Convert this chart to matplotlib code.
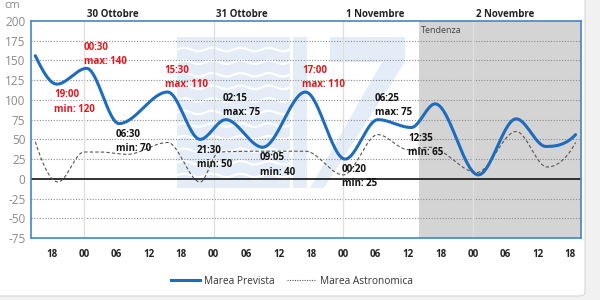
import numpy as np
import matplotlib
matplotlib.use("Agg")
import matplotlib.pyplot as plt
from matplotlib.lines import Line2D
from matplotlib.patches import FancyBboxPatch, Rectangle, Polygon

plt.rcParams['font.family'] = ['Open Sans', 'DejaVu Sans']

# ---------------- data (hours from 30 Oct 00:00) ----------------
prev_t = [-9, -5, 0.5, 6.5, 15.5, 21.5, 26.25, 33.08, 41, 48.33, 54.42, 60.58, 65, 73, 80, 85.5, 91]
prev_v = [156, 120, 140, 70, 110, 50, 75, 40, 110, 25, 75, 65, 95, 5, 76, 41, 56]

astro_t = [-9, -4.8, 0, 3, 8, 15.5, 21.5, 25, 33, 41, 48, 54.4, 60, 64, 72.7, 80, 85.7, 91]
astro_v = [47, -4, 34, 34, 31, 46, -4, 34, 35, 35, 5, 56, 37, 40, 8, 60, 15, 46]

event_t = [-5, 0.5, 6.5, 15.5, 21.5, 26.25, 33.08, 41, 48.33, 54.42, 60.58]
event_time = ["19:00", "00:30", "06:30", "15:30", "21:30", "02:15", "09:05", "17:00", "00:20", "06:25", "12:35"]
event_kind = ["min", "max", "min", "max", "min", "max", "min", "max", "min", "max", "min"]
event_val = [120, 140, 70, 110, 50, 75, 40, 110, 25, 75, 65]

day_t = [0, 24, 48, 72]
day_labels = ["30 Ottobre", "31 Ottobre", "1 Novembre", "2 Novembre"]
tick_t = list(range(-6, 91, 6))
tick_labels = ["18", "00", "06", "12"] * 4 + ["18"]
yticks = list(range(-75, 201, 25))
trend_start = 62


def pchip(x, y, xs):
    x = np.asarray(x, float); y = np.asarray(y, float)
    h = np.diff(x); d = np.diff(y) / h
    n = len(x); m = np.zeros(n)
    for k in range(1, n - 1):
        if d[k - 1] * d[k] > 0:
            w1 = 2 * h[k] + h[k - 1]; w2 = h[k] + 2 * h[k - 1]
            m[k] = (w1 + w2) / (w1 / d[k - 1] + w2 / d[k])
    def endslope(h0, h1, d0, d1):
        s = ((2 * h0 + h1) * d0 - h0 * d1) / (h0 + h1)
        if np.sign(s) != np.sign(d0):
            s = 0
        elif np.sign(d0) != np.sign(d1) and abs(s) > 3 * abs(d0):
            s = 3 * d0
        return s
    m[0] = endslope(h[0], h[1], d[0], d[1])
    m[-1] = endslope(h[-1], h[-2], d[-1], d[-2])
    idx = np.clip(np.searchsorted(x, xs) - 1, 0, n - 2)
    hh = h[idx]; tt = (xs - x[idx]) / hh
    h00 = 2 * tt**3 - 3 * tt**2 + 1; h10 = tt**3 - 2 * tt**2 + tt
    h01 = -2 * tt**3 + 3 * tt**2; h11 = tt**3 - tt**2
    return h00 * y[idx] + h10 * hh * m[idx] + h01 * y[idx + 1] + h11 * hh * m[idx + 1]


fig = plt.figure(figsize=(6, 3), dpi=100, facecolor='#f1f1f1')
card = FancyBboxPatch((-20 / 600, 4 / 300), 605 / 600, 1.2,
                      boxstyle="round,pad=0,rounding_size=0.012", transform=fig.transFigure,
                      facecolor='white', edgecolor='#d6d6d6', lw=0.8, zorder=-10)
fig.patches.append(card)

ax = fig.add_axes([31 / 600, 1 - 238 / 300, 550 / 600, 217 / 300])
ax.set_facecolor('white')
ax.set_xlim(-9.8, 92)
ax.set_ylim(-75, 200)

# faint watermark logo (axes-fraction coordinates)
def px(xp, yp):
    return ((xp - 31) / 550, (238 - yp) / 217)

wm = '#e4edf7'
x0, y0 = px(177, 188); x1, y1 = px(290, 37)
ax.add_patch(Rectangle((x0, y0), x1 - x0, y1 - y0, transform=ax.transAxes,
                       facecolor=wm, edgecolor='none', zorder=0.3))
wx = np.linspace(x0, x1, 200)
for k in range(1, 12):
    yy = y0 + (y1 - y0) * k / 12
    ax.plot(wx, yy + 0.008 * np.sin((wx - x0) / (x1 - x0) * 2 * np.pi * 4), color='white',
            lw=1.6, transform=ax.transAxes, zorder=0.35)
bx0, by0 = px(293, 188); bx1, by1 = px(307, 37)
ax.add_patch(Rectangle((bx0, by0), bx1 - bx0, by1 - by0, transform=ax.transAxes,
                       facecolor=wm, edgecolor='none', zorder=0.3))
zpts = [px(330, 37), px(405, 37), px(405, 62), px(324, 188), px(310, 188), px(382, 62), px(330, 62)]
ax.add_patch(Polygon(zpts, closed=True, transform=ax.transAxes,
                     facecolor=wm, edgecolor='none', zorder=0.3))

ax.axvspan(trend_start, 92, color='#d4d4d4', zorder=0.5, lw=0)
ax.text(trend_start + 0.4, 194, "Tendenza", fontsize=6.5, color='#444', va='top', ha='left')

for yv in yticks:
    if yv not in (0, 200, -75):
        ax.axhline(yv, color='#8c8c8c', lw=0.8, ls=(0, (1, 1.5)), zorder=1)
for t in day_t:
    ax.axvline(t, color='#dedede', lw=0.9, zorder=1)
ax.axhline(0, color='#222', lw=1.3, zorder=2)

xs = np.linspace(prev_t[0], prev_t[-1], 800)
ax.plot(xs, pchip(prev_t, prev_v, xs), color='#1f6cbd', lw=2.2, zorder=4, solid_capstyle='round')
xa = np.linspace(astro_t[0], astro_t[-1], 800)
ax.plot(xa, pchip(astro_t, astro_v, xa), color='#555', lw=0.8, ls=(0, (3, 2)), zorder=3)

for t, lab, kind, v in zip(event_t, event_time, event_kind, event_val):
    col = '#e0181e' if v >= 110 else '#111'
    dy = 10.2 if kind == 'max' else -12.8
    ax.annotate(f"{lab}\n{kind}: {v}", xy=(t, v), xytext=(-2.2, dy), textcoords='offset points',
                ha='left', va='center', fontsize=7.0, color=col, fontweight='bold',
                linespacing=1.4, zorder=5)

ax.set_yticks(yticks)
ax.set_yticklabels([str(v) for v in yticks], fontsize=8.5, color='#8a8a8a')
ax.set_xticks(tick_t)
ax.set_xticklabels(tick_labels, fontsize=7, fontweight='bold', color='#222')
ax.tick_params(axis='both', length=0)
ax.tick_params(axis='x', pad=8)
ax.tick_params(axis='y', pad=4)
for s in ax.spines.values():
    s.set_color('#3f88c9'); s.set_linewidth(1.2)
    s.set_zorder(6)

for t, lab in zip(day_t, day_labels):
    ax.text(t + 0.5, 1.03, lab, transform=ax.get_xaxis_transform(), fontsize=7,
            fontweight='bold', color='#222', ha='left', va='center', clip_on=False)

fig.text(12 / 600, 1.0, "cm", fontsize=8, color='#8a8a8a', ha='center', va='top')

handles = [Line2D([], [], color='#1f6cbd', lw=2.2),
           Line2D([], [], color='#555', lw=0.8, ls=(0, (1, 1.2)))]
fig.legend(handles, ["Marea Prevista", "Marea Astronomica"], loc='center',
           bbox_to_anchor=(292 / 600, 1 - 281 / 300), ncol=2, frameon=False,
           fontsize=7.3, handlelength=2.8, columnspacing=1.3, handletextpad=0.4,
           labelcolor='#333')

fig.savefig("out.png", dpi=100, facecolor=fig.get_facecolor())
